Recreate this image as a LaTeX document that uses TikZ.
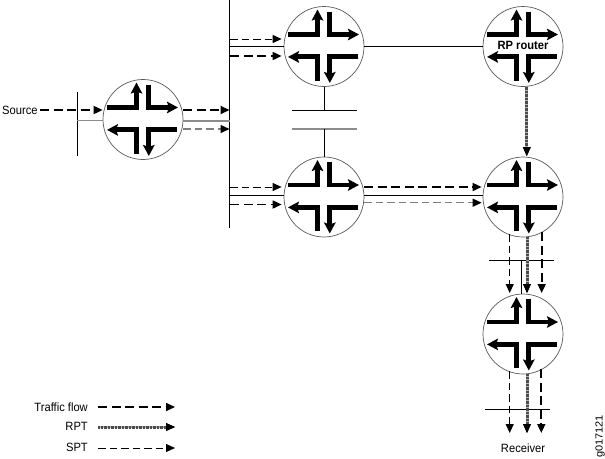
\documentclass[tikz,border=0pt]{standalone}
\usepackage{fontspec}
\setmainfont{Liberation Sans}
\usetikzlibrary{arrows.meta}
\tikzset{
  routerc/.style={circle,draw=black!65,line width=0.7pt,minimum size=80pt,inner sep=0pt,fill=white},
  glyph/.style={line width=4.9pt,-{Stealth[length=11pt,width=11.5pt,inset=2pt]},black},
  traffic/.style={line width=1.7pt,dash pattern=on 9pt off 4.5pt,-{Triangle[length=9pt,width=8pt]},black},
  spt/.style={line width=1pt,dash pattern=on 7.5pt off 4pt,-{Triangle[length=9pt,width=8pt]},black},
  sptgray/.style={draw=black!50,line width=1.3pt,dash pattern=on 7.5pt off 4pt,-{Triangle[length=9pt,width=8pt,color=black,fill=black]}},
  rpt/.style={draw=black!30,line width=3pt,-{Triangle[length=9pt,width=8pt,color=black,fill=black,line width=0pt]},
    postaction={draw=black!70,line width=3pt,dash pattern=on 0.6pt off 0.8pt}},
  wire/.style={line width=0.9pt,black},
  graywire/.style={line width=1.5pt,black!45},
  lbl/.style={inner sep=0pt,xscale=0.93,font=\fontsize{12}{14}\selectfont},
  router/.pic={
    \draw[glyph] (-36,-12) -- (-6.5,-12) -- (-6.5,-37);
    \draw[glyph] (5.8,-35) -- (5.8,-12) -- (35,-12);
    \draw[glyph] (-6.5,34) -- (-6.5,10.4) -- (-36,10.4);
    \draw[glyph] (34,10.4) -- (5.8,10.4) -- (5.8,36.5);
  }
}
\begin{document}
\begin{tikzpicture}[x=1pt,y=-1pt,line join=miter]
\useasboundingbox (0,0) rectangle (605,458);
% routers
\node[routerc] (r1) at (143,119.5) {};
\node[routerc] (r2) at (324,46.5) {};
\node[routerc] (r3) at (324,197) {};
\node[routerc] (rp) at (523,46.5) {};
\node[routerc] (r5) at (523,197) {};
\node[routerc] (r6) at (523,334) {};
\foreach \n in {r1,r2,r3,rp,r5,r6} \pic at (\n.center) {router};
\node[lbl,font=\fontsize{12}{14}\selectfont\bfseries] (rplabel) at (523,45.7) {RP router};
% buses
\coordinate (bust) at (229.5,0); \coordinate (busb) at (229.5,228);
\draw[wire] (bust) -- (busb);
\coordinate (st) at (77,92); \coordinate (sb) at (77,156);
\draw[wire] (st) -- (sb);
\coordinate (c1a) at (292,110.7); \coordinate (c1b) at (357,110.7);
\draw[wire] (c1a) -- (c1b);
\coordinate (c2a) at (292,129); \coordinate (c2b) at (357,129);
\draw[graywire] (c2a) -- (c2b);
\coordinate (l1a) at (489,260); \coordinate (l1b) at (554,260);
\draw[wire] (l1a) -- (l1b);
\coordinate (l2a) at (485,409.5); \coordinate (l2b) at (550,409.5);
\draw[wire] (l2a) -- (l2b);
% source side
\node[lbl,anchor=west] (source) at (2,110.5) {Source};
\coordinate (se) at (40,110);
\draw[traffic] (se) -- (se -| r1.west);
\coordinate (g0) at (77,120.7);
\draw[graywire] (g0) -- (g0 -| r1.west);
% r1 to bus
\coordinate (a1) at (183,110); \draw[traffic] (a1) -- (a1 -| bust);
\coordinate (a2) at (183,121); \draw[graywire] (a2) -- (a2 -| bust);
\coordinate (a3) at (183,129); \draw[sptgray] (a3) -- (a3 -| bust);
% bus to r2
\coordinate (b1) at (230,39); \draw[spt,shorten >=2pt] (b1) -- (b1 -| r2.west);
\coordinate (b2) at (230,46.5); \draw[wire] (b2) -- (r2.west);
\coordinate (b3) at (230,56); \draw[traffic,shorten >=2pt] (b3) -- (b3 -| r2.west);
% bus to r3
\coordinate (d1) at (230,187); \draw[spt,shorten >=2pt] (d1) -- (d1 -| r3.west);
\coordinate (d2) at (230,195.5); \draw[wire] (d2) -- (d2 -| r3.west);
\coordinate (d3) at (230,204.5); \draw[traffic,shorten >=2pt] (d3) -- (d3 -| r3.west);
% r2 links
\draw[wire] (r2.east) -- (rp.west);
\draw[wire] (r2.south) -- (r2.south |- c1a);
\draw[wire] (r3.north |- c2a) -- (r3.north);
% r3 to r5
\coordinate (e1) at (364,187); \draw[traffic,shorten >=1pt] (e1) -- (e1 -| r5.west);
\coordinate (e2) at (364,195); \draw[wire] (e2) -- (e2 -| r5.west);
\coordinate (e3) at (364,202.7); \draw[sptgray,shorten >=1pt] (e3) -- (e3 -| r5.west);
% rp to r5
\coordinate (f1) at (526.8,86.5); \coordinate (f2) at (526.8,156);
\draw[rpt] (f1) -- (f2);
% r5 to r6
\coordinate (h1) at (509.7,234); \coordinate (h2) at (509.7,293);
\draw[spt] (h1) -- (h2);
\coordinate (i1) at (527,237); \coordinate (i2) at (527,293);
\draw[rpt] (i1) -- (i2);
\coordinate (j1) at (541.7,232); \coordinate (j2) at (541.7,293);
\draw[traffic] (j1) -- (j2);
\coordinate (k1) at (521.7,260); \draw[wire] (k1) -- (k1 |- r6.north);
% r6 down
\node[lbl] (receiver) at (523,448) {Receiver};
\coordinate (m1) at (509.7,371); \coordinate (m2) at (509.7,433);
\draw[spt] (m1) -- (m2);
\coordinate (n1) at (527,374); \coordinate (n2) at (527,433);
\draw[rpt] (n1) -- (n2);
\coordinate (o1) at (541.3,369); \coordinate (o2) at (541.3,433);
\draw[traffic] (o1) -- (o2);
% legend
\node[lbl,anchor=east] (ltf) at (88,407) {Traffic flow};
\node[lbl,anchor=east] (lrpt) at (88,426.5) {RPT};
\node[lbl,anchor=east] (lspt) at (88,447) {SPT};
\coordinate (p1) at (98,407); \coordinate (p2) at (175,407);
\draw[traffic] (p1) -- (p2);
\coordinate (q1) at (98,427); \coordinate (q2) at (175,427);
\draw[rpt,line width=2.4pt] (q1) -- (q2);
\coordinate (s1) at (98,448); \coordinate (s2) at (175,448);
\draw[spt] (s1) -- (s2);
\node[lbl,rotate=90,font=\fontsize{11}{13}\selectfont] (gnum) at (600,436.5) {g017121};
\end{tikzpicture}
\end{document}
